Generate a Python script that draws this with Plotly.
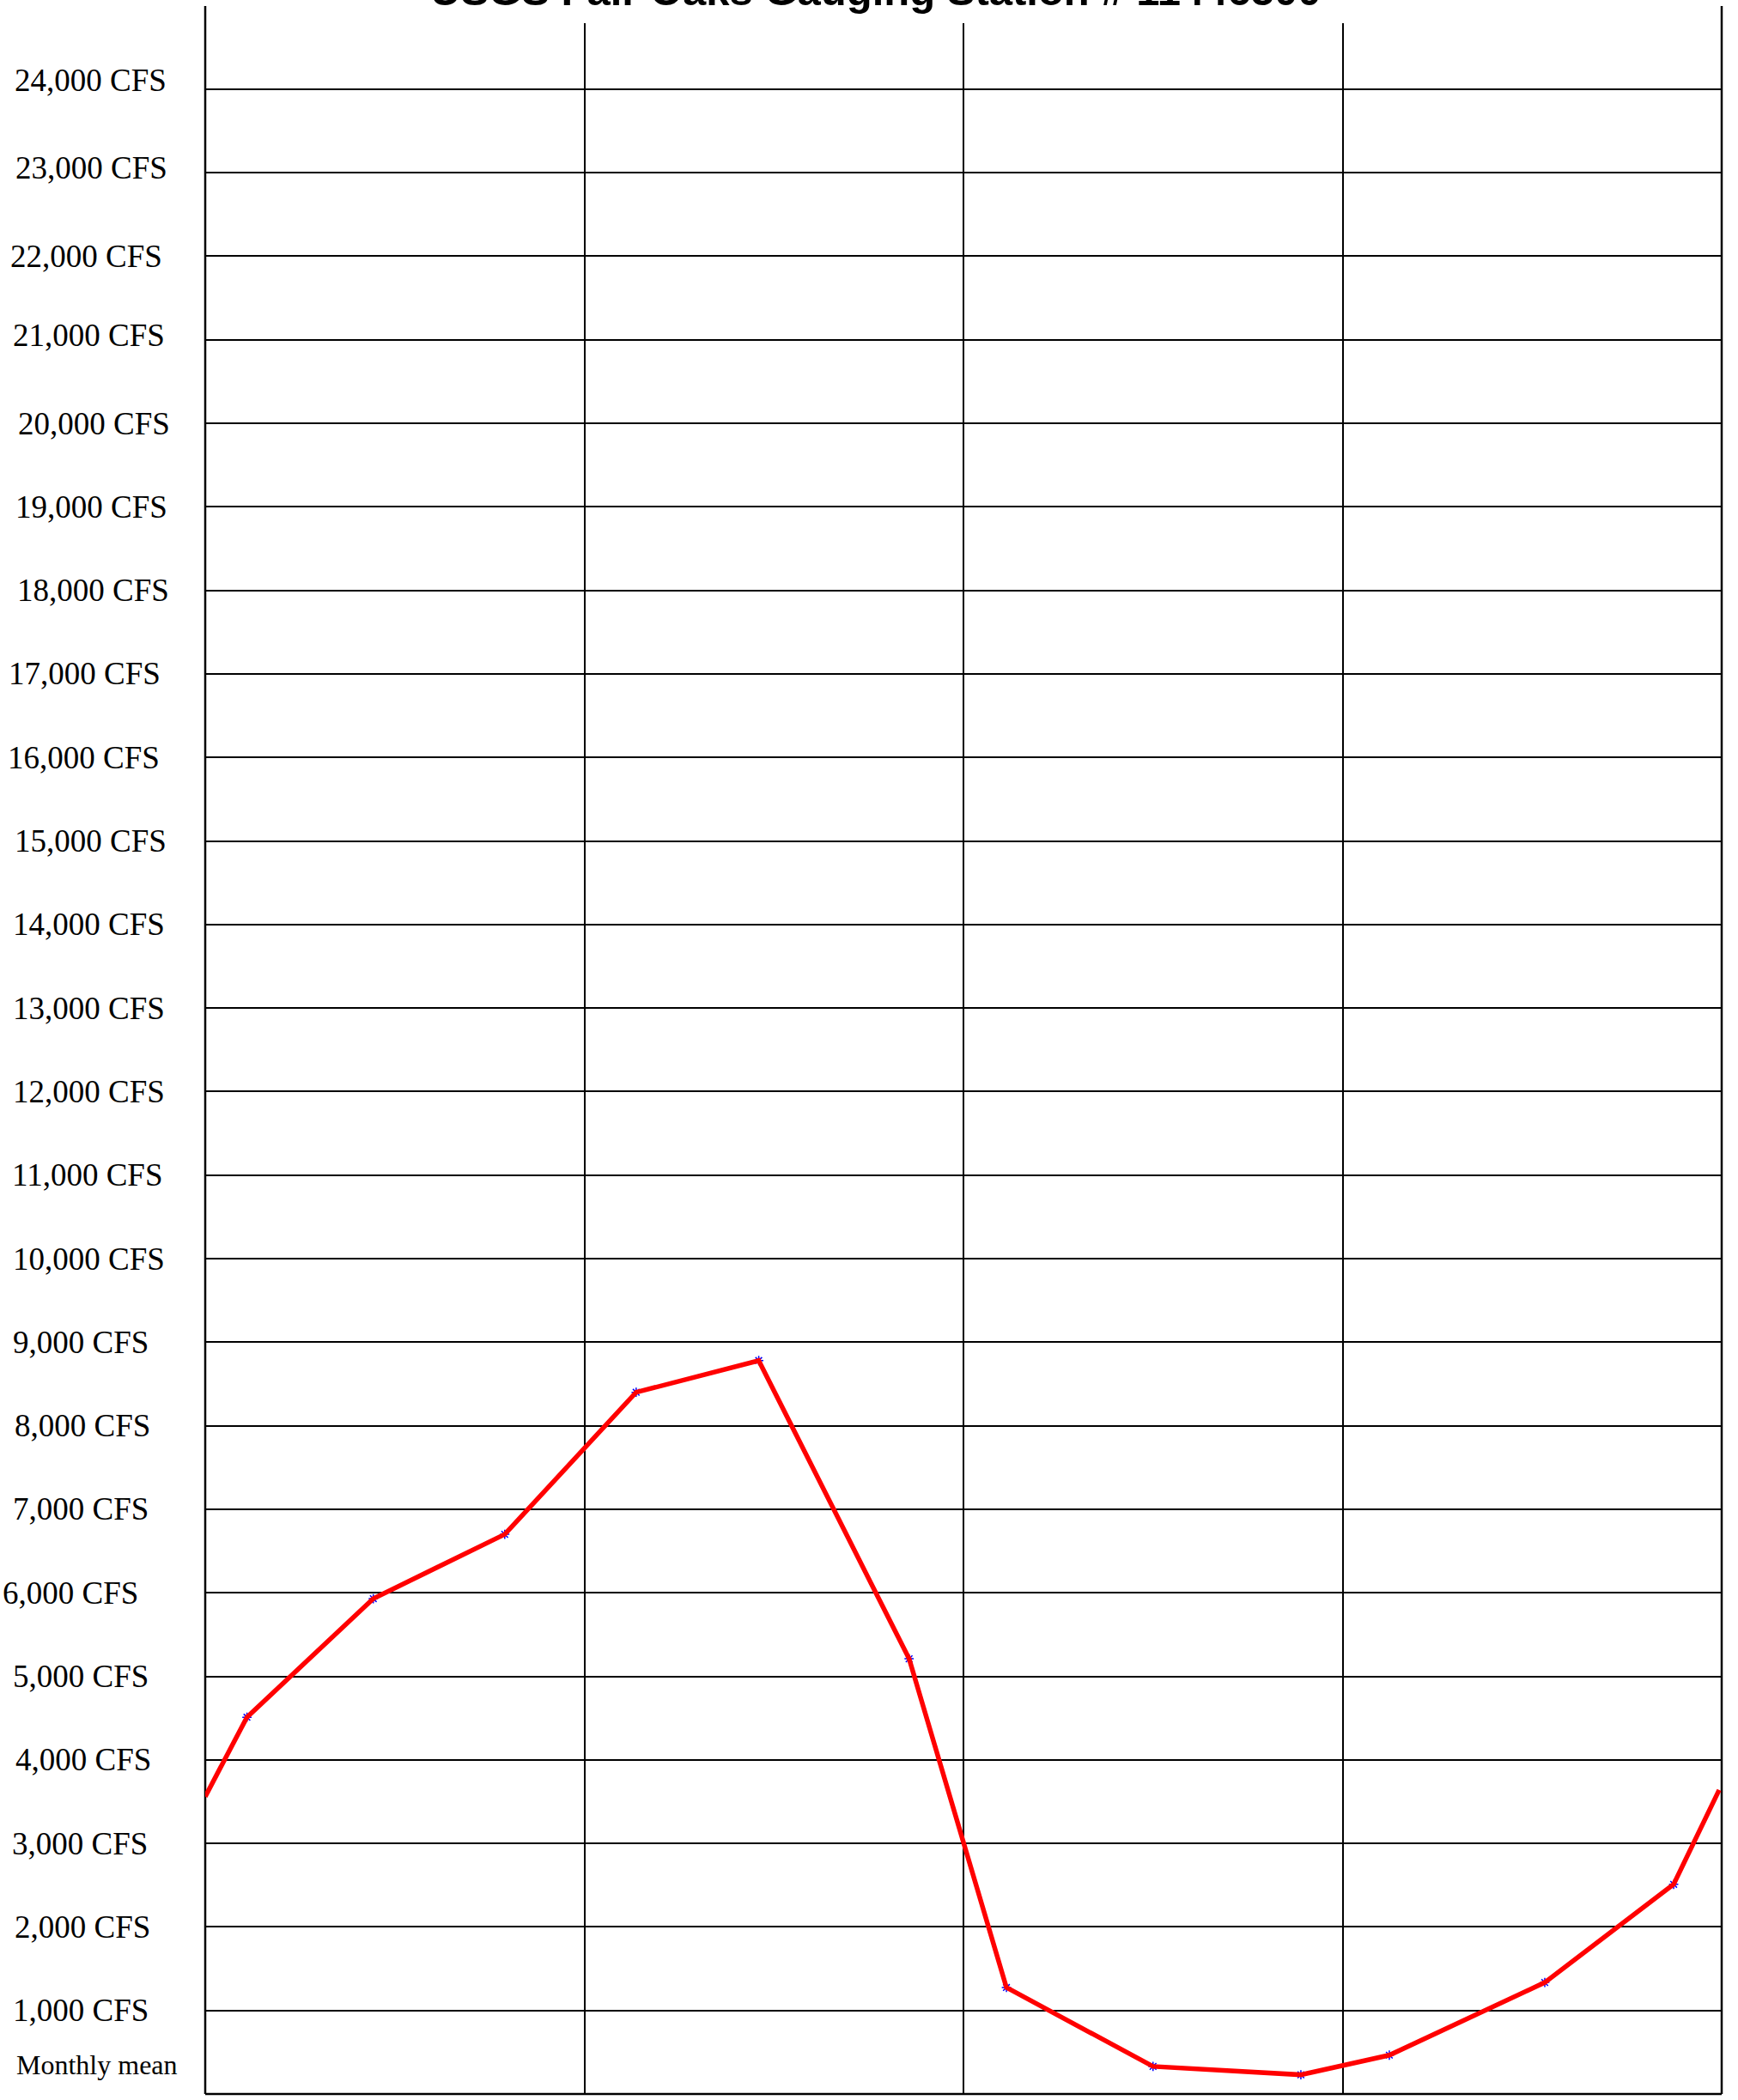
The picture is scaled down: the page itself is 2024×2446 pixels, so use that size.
import plotly.graph_objects as go

# ---- data ----
title_text = "USGS Fair Oaks Gauging Station # 11446500"
corner_label = "Monthly mean"

# positions along the year (months from the left edge) and monthly mean flow (CFS)
month_pos = [0.33, 1.33, 2.37, 3.41, 4.38, 5.57, 6.34, 7.50, 8.67, 9.37, 10.60, 11.62]
mean_cfs = [4510, 5930, 6700, 8400, 8780, 5210, 1275, 330, 230, 465, 1335, 2510]

# where the curve meets the left and right frame
edge_pos = [0.0, 11.98]
edge_cfs = [3560, 3640]

tick_values = [1000, 2000, 3000, 4000, 5000, 6000, 7000, 8000, 9000, 10000, 11000, 12000,
               13000, 14000, 15000, 16000, 17000, 18000, 19000, 20000, 21000, 22000, 23000, 24000]
tick_labels = [f"{v:,} CFS" for v in tick_values]

# hand-placed label offsets (px), same order as tick_values
label_left_px = [14, 16, 12.5, 17, 14, 2, 14, 16, 14, 14, 12.5, 14,
                 14, 14, 16, 8, 9, 19, 17, 20, 14, 11, 17, 15.6]
label_yshift_px = [0, 0, 0, 0, 0, 0, 0, 0, 0, 0, 0, 0,
                   0, 0, 0, 0, 0, 0, 0, 0, 5, 0, 6, 10]

# ---- layout constants ----
W, H = 2024, 2446
L, R, T, B = 239, 19, 27, 7
plot_h = H - T - B

line_x = [edge_pos[0]] + month_pos + [edge_pos[1]]
line_y = [edge_cfs[0]] + mean_cfs + [edge_cfs[1]]

fig = go.Figure()

# markers underneath the line
fig.add_trace(go.Scatter(
    x=month_pos, y=mean_cfs, mode="markers",
    marker=dict(symbol="asterisk-open", size=9, color="blue",
                line=dict(color="blue", width=1.5)),
    hoverinfo="skip", showlegend=False,
))
fig.add_trace(go.Scatter(
    x=line_x, y=line_y, mode="lines",
    line=dict(color="#ff0000", width=5.5),
    showlegend=False,
))

annotations = []
for v, lab, lx, ys in zip(tick_values, tick_labels, label_left_px, label_yshift_px):
    annotations.append(dict(
        x=0, xref="paper", y=v, yref="y", xanchor="left", yanchor="middle",
        xshift=lx - L - 1, yshift=ys, text=lab, showarrow=False,
        font=dict(family="Liberation Serif, Times New Roman, serif", size=37, color="black"),
    ))

annotations.append(dict(
    x=0, xref="paper", y=0, yref="paper", xanchor="left", yanchor="bottom",
    xshift=18 - L - 1, yshift=14, text=corner_label, showarrow=False,
    font=dict(family="Liberation Serif, Times New Roman, serif", size=32, color="black"),
))

annotations.append(dict(
    x=(1019.5 - L) / (W - L - R), xref="paper", y=1, yref="paper",
    xanchor="center", yanchor="bottom", yshift=9,
    text="<b>" + title_text + "</b>", showarrow=False,
    font=dict(family="Liberation Sans, Arial, sans-serif", size=49, color="black"),
))

ext = (T - 7) / plot_h
shapes = [
    dict(type="line", xref="paper", yref="paper", x0=0, x1=0, y0=0, y1=1 + ext,
         line=dict(color="black", width=2.5), layer="below"),
    dict(type="line", xref="paper", yref="paper", x0=1, x1=1, y0=0, y1=1 + ext,
         line=dict(color="black", width=2.5), layer="below"),
    dict(type="line", xref="paper", yref="paper", x0=0, x1=1, y0=0, y1=0,
         line=dict(color="black", width=2.5), layer="below"),
]

fig.update_layout(
    width=W, height=H,
    margin=dict(l=L, r=R, t=T, b=B, pad=0),
    paper_bgcolor="white", plot_bgcolor="white",
    showlegend=False,
    annotations=annotations,
    shapes=shapes,
    xaxis=dict(range=[0, 12], tick0=0, dtick=3, showgrid=True, gridcolor="black",
               gridwidth=1.8, showticklabels=False, zeroline=False, showline=False,
               ticks=""),
    yaxis=dict(range=[0, 24790], tick0=0, dtick=1000, showgrid=True, gridcolor="black",
               gridwidth=1.8, showticklabels=False, zeroline=False, showline=False,
               ticks=""),
)

fig.write_html("out.html",
               config={"displayModeBar": False},
               post_script="document.body.style.margin='0';document.body.style.overflow='hidden';")
